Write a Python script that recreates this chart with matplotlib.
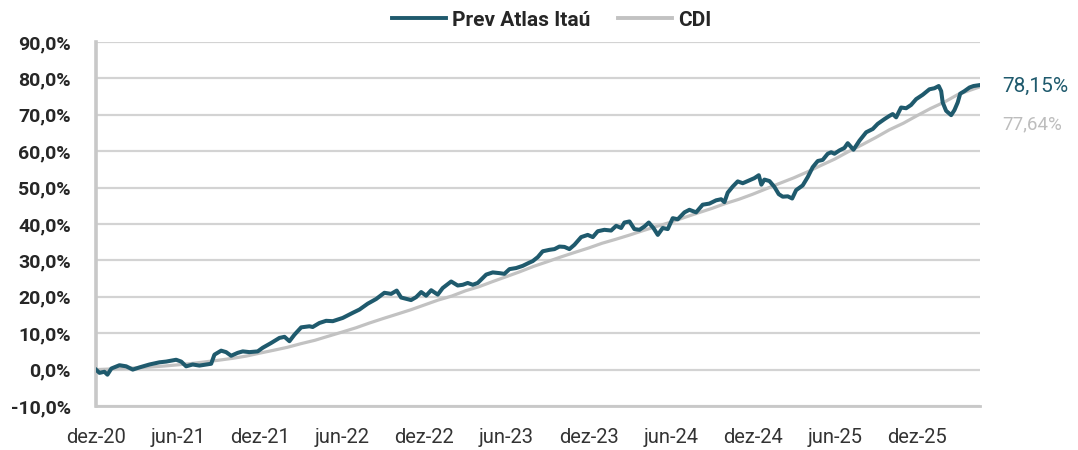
import matplotlib
matplotlib.use("Agg")
import matplotlib.pyplot as plt
from matplotlib.lines import Line2D

plt.rcParams['font.family'] = ['Roboto', 'DejaVu Sans']

# ---- data (months since dez-20) ----
tick_labels = ["dez-20", "jun-21", "dez-21", "jun-22", "dez-22", "jun-23",
               "dez-23", "jun-24", "dez-24", "jun-25", "dez-25"]
tick_months = [0, 6, 12, 18, 24, 30, 36, 42, 48, 54, 60]
y_ticks = [-10, 0, 10, 20, 30, 40, 50, 60, 70, 80, 90]

atlas_months = [
    0.00, 0.26, 0.62, 0.84, 1.13, 1.72, 2.21, 2.69, 3.18, 3.91, 4.64, 5.13,
    5.86, 6.23, 6.59, 7.07, 7.56, 8.05, 8.42, 8.66, 9.15, 9.51, 9.88, 10.36,
    10.73, 11.22, 11.82, 12.19, 12.80, 13.41, 13.78, 14.14, 14.51, 15.00,
    15.60, 15.84, 16.33, 16.82, 17.31, 18.04, 18.77, 19.26, 19.86, 20.48,
    21.08, 21.57, 21.98, 22.30, 23.03, 23.40, 23.77, 24.13, 24.50, 24.98,
    25.34, 25.96, 26.44, 26.81, 27.17, 27.54, 27.90, 28.52, 29.00, 29.49,
    29.85, 30.22, 30.71, 31.19, 31.68, 31.92, 32.29, 32.65, 33.14, 33.51,
    33.87, 34.24, 34.60, 34.97, 35.46, 35.94, 36.31, 36.67, 37.16, 37.65,
    38.02, 38.38, 38.62, 38.99, 39.35, 39.72, 40.08, 40.40, 40.74, 41.06,
    41.42, 41.79, 42.15, 42.52, 43.01, 43.37, 43.86, 44.34, 44.83, 45.32,
    45.69, 45.93, 46.17, 46.54, 46.90, 47.27, 47.76, 48.12, 48.44, 48.63,
    48.85, 49.22, 49.58, 49.90, 50.19, 50.56, 50.88, 51.17, 51.65, 52.02,
    52.38, 52.75, 53.11, 53.48, 53.73, 53.97, 54.33, 54.70, 54.94, 55.36,
    55.80, 56.29, 56.77, 57.13, 57.62, 57.99, 58.23, 58.48, 58.84, 59.21,
    59.57, 59.94, 60.42, 60.91, 61.28, 61.59, 61.77, 61.88, 62.13, 62.50,
    62.74, 62.98, 63.16, 63.47, 63.84, 64.13, 64.33, 64.57]
atlas_values = [
    0.0, -0.9, -0.6, -1.4, 0.3, 1.2, 0.9, 0.0, 0.6, 1.4, 2.0, 2.2,
    2.7, 2.2, 0.9, 1.4, 1.1, 1.4, 1.6, 4.1, 5.2, 4.8, 3.8, 4.6,
    5.0, 4.8, 5.0, 6.0, 7.3, 8.7, 9.0, 7.8, 9.6, 11.6,
    11.9, 11.7, 12.8, 13.4, 13.3, 14.2, 15.6, 16.5, 18.1, 19.4,
    21.1, 20.8, 21.7, 19.8, 19.1, 19.9, 21.3, 20.3, 21.8, 20.6,
    22.4, 24.2, 23.1, 23.3, 23.8, 23.3, 23.8, 26.1, 26.7, 26.5,
    26.3, 27.6, 27.9, 28.5, 29.4, 29.8, 30.9, 32.5, 32.9, 33.1,
    33.8, 33.7, 33.1, 34.3, 36.4, 37.0, 36.4, 38.0, 38.4, 38.2,
    39.5, 38.9, 40.4, 40.7, 38.6, 38.4, 39.3, 40.4, 38.9, 37.0,
    38.9, 38.6, 41.6, 41.3, 43.2, 43.9, 43.2, 45.3, 45.6, 46.5,
    46.8, 46.0, 48.6, 50.3, 51.7, 51.2, 52.0, 52.6, 53.4, 50.8,
    52.2, 51.8, 50.2, 48.2, 47.5, 47.6, 47.0, 49.3, 50.6, 52.9,
    55.6, 57.3, 57.6, 59.3, 59.7, 59.3, 60.2, 60.9, 62.2, 60.4,
    62.9, 65.2, 66.1, 67.5, 68.8, 69.7, 70.2, 69.3, 72.0, 71.8,
    72.7, 74.3, 75.5, 77.0, 77.3, 77.9, 76.5, 73.4, 71.1, 69.9,
    71.3, 73.4, 75.8, 76.5, 77.5, 77.9, 78.0, 78.15]

cdi_months = list(range(0, 64)) + [64.57]
cdi_values = [
    0.00, 0.15, 0.29, 0.49, 0.71, 0.98, 1.31, 1.68, 2.13, 2.59, 3.10, 3.72,
    4.54, 5.32, 6.13, 7.14, 8.05, 9.19, 10.32, 11.48, 12.81, 14.04, 15.22,
    16.42, 17.75, 19.09, 20.20, 21.64, 22.78, 24.19, 25.54, 26.91, 28.38,
    29.65, 30.97, 32.20, 33.40, 34.72, 35.81, 36.96, 38.20, 39.36, 40.48,
    41.78, 43.04, 44.26, 45.62, 46.80, 48.18, 49.70, 51.21, 52.68, 54.32,
    56.11, 57.85, 59.90, 61.78, 63.78, 65.91, 67.67, 69.75, 71.74, 73.48,
    75.59, 77.64]

atlas_label = "78,15%"
cdi_label = "77,64%"

ATLAS_COLOR = "#1f5a6d"
CDI_COLOR = "#c2c2c2"
GRID_COLOR = "#d3d3d3"

fig = plt.figure(figsize=(10.78, 4.5), dpi=100)
ax = fig.add_axes([0.089, 0.0978, 0.820, 0.8089])

ax.plot(cdi_months, cdi_values, color=CDI_COLOR, lw=2.3, solid_capstyle='round', zorder=3)
ax.plot(atlas_months, atlas_values, color=ATLAS_COLOR, lw=2.9, solid_joinstyle='round', zorder=4)

ax.set_xlim(0, 64.6)
ax.set_ylim(-10, 90)
ax.set_yticks(y_ticks)
ax.set_yticklabels([f"{v:.1f}%".replace(".", ",") for v in y_ticks],
                   fontsize=14, fontweight='bold', color="#262626")
ax.set_xticks(tick_months)
ax.set_xticklabels(tick_labels, fontsize=14.5, color="#333333")
ax.tick_params(axis='both', length=0)
ax.tick_params(axis='y', pad=18)
ax.tick_params(axis='x', pad=16)

ax.grid(axis='y', color=GRID_COLOR, lw=1.6)
ax.set_axisbelow(True)
for s in ['top', 'right']:
    ax.spines[s].set_visible(False)
ax.spines['left'].set_color("#c8c8c8")
ax.spines['left'].set_linewidth(2.6)
ax.spines['bottom'].set_color("#c8c8c8")
ax.spines['bottom'].set_linewidth(2.0)

ax.annotate(atlas_label, xy=(atlas_months[-1], atlas_values[-1]),
            xytext=(16.5, -1), textcoords='offset points', ha='left', va='center',
            fontsize=15, fontweight='normal', color=ATLAS_COLOR, annotation_clip=False)
ax.annotate(cdi_label, xy=(cdi_months[-1], cdi_values[-1]),
            xytext=(16.5, -27), textcoords='offset points', ha='left', va='center',
            fontsize=13.5, fontweight='normal', color="#bdbdbd", annotation_clip=False)

handles = [Line2D([], [], color=ATLAS_COLOR, lw=2.8),
           Line2D([], [], color=CDI_COLOR, lw=2.8)]
fig.legend(handles, ["Prev Atlas Itaú", "CDI"], loc='center',
           bbox_to_anchor=(0.5116, 0.955), ncol=2, frameon=False,
           prop={'size': 15, 'weight': 'bold'}, handlelength=2.6,
           handletextpad=0.3, columnspacing=1.3, labelcolor="#262626")

fig.savefig("out.png", dpi=100)
